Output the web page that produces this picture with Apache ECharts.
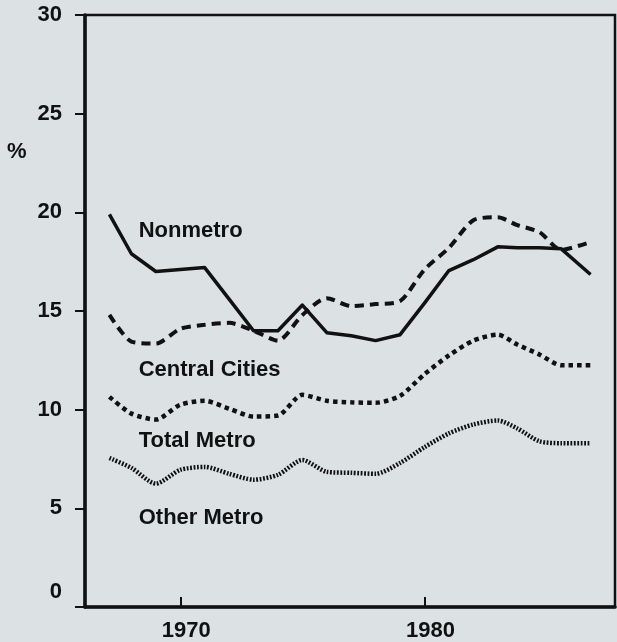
<!DOCTYPE html>
<html><head><meta charset="utf-8">
<script src="https://cdn.jsdelivr.net/npm/echarts@6/dist/echarts.min.js"></script>
<style>html,body{margin:0;padding:0;background:#dce1e4;} #c{width:617px;height:642px;}</style>
</head><body><div id="c"></div>
<script>
// Year positions as plotted in the original figure
const years = [1967.1, 1968, 1969, 1970, 1971, 1972, 1973, 1974, 1975, 1976, 1977, 1978, 1979, 1980, 1981, 1982, 1983, 1983.8, 1984.7, 1985.6, 1986.8];
const nonmetro      = [19.9, 17.9, 17.0, 17.1, 17.2, 15.6, 14.0, 14.0, 15.3, 13.9, 13.75, 13.5, 13.8, 15.4, 17.05, 17.6, 18.25, 18.2, 18.2, 18.15, 16.85];
const centralCities = [14.8, 13.45, 13.35, 14.1, 14.3, 14.4, 14.0, 13.5, 14.8, 15.65, 15.25, 15.35, 15.5, 17.1, 18.2, 19.6, 19.75, 19.35, 19.0, 18.1, 18.5];
const totalMetro    = [10.65, 9.8, 9.5, 10.25, 10.45, 10.05, 9.65, 9.7, 10.75, 10.45, 10.37, 10.35, 10.7, 11.8, 12.75, 13.5, 13.8, 13.3, 12.8, 12.25, 12.25];
const otherMetro    = [7.55, 7.05, 6.25, 6.95, 7.1, 6.75, 6.45, 6.7, 7.45, 6.85, 6.8, 6.75, 7.3, 8.1, 8.8, 9.25, 9.45, 9.05, 8.4, 8.3, 8.3];
const seriesNames = ['Nonmetro', 'Central Cities', 'Total Metro', 'Other Metro'];
const xTickValues = [1970, 1980];
const yAxisUnit = '%';
// anchor (in data units) for the in-plot series labels
const labelYear = 1968.3;
const labelValues = [19.05, 12.0, 8.4, 4.5];

const INK = '#111';
const FONT = '"Liberation Sans", Arial, sans-serif';
const pairs = arr => years.map((y, i) => [y, arr[i]]);

const chart = echarts.init(document.getElementById('c'), null, {renderer: 'canvas'});
const option = {
  animation: false,
  backgroundColor: '#dce1e4',
  grid: {left: 85, right: 2, top: 15, bottom: 34, show: true, borderColor: INK, borderWidth: 2.5, backgroundColor: 'transparent'},
  xAxis: {
    type: 'value', min: 1966.1, max: 1987.8,
    splitLine: {show: false},
    axisLine: {show: true, lineStyle: {color: INK, width: 3.5}},
    axisTick: {show: true, inside: true, length: 10, customValues: xTickValues, lineStyle: {color: INK, width: 2}},
    axisLabel: {show: true, customValues: xTickValues, formatter: v => String(Math.round(v)),
      color: INK, fontFamily: FONT, fontWeight: 'bold', fontSize: 22, margin: 13, padding: [0, 0, 0, 12]}
  },
  yAxis: {
    type: 'value', min: 0, max: 30, interval: 5,
    splitLine: {show: false},
    axisLine: {show: true, lineStyle: {color: INK, width: 3.5}},
    axisTick: {show: true, inside: false, length: 10, lineStyle: {color: INK, width: 2}},
    axisLabel: {
      color: INK, fontFamily: FONT, fontWeight: 'bold', fontSize: 22, margin: 23,
      formatter: v => v === 0 ? '{z|0}' : String(v),
      rich: {z: {color: INK, fontFamily: FONT, fontWeight: 'bold', fontSize: 22, padding: [0, 0, 30, 0]}}
    }
  },
  series: [
    {name: seriesNames[0], type: 'line', data: pairs(nonmetro), symbol: 'none', smooth: false,
     lineStyle: {color: INK, width: 3.5, join: 'round'}},
    {name: seriesNames[1], type: 'line', data: pairs(centralCities), symbol: 'none', smooth: 0.25,
     lineStyle: {color: INK, width: 4, type: [9, 6]}},
    {name: seriesNames[2], type: 'line', data: pairs(totalMetro), symbol: 'none', smooth: 0.25,
     lineStyle: {color: INK, width: 4.5, type: [4.5, 4]}},
    {name: seriesNames[3], type: 'line', data: pairs(otherMetro), symbol: 'none', smooth: 0.25,
     lineStyle: {color: INK, width: 4.5, type: [1.8, 1.6]}}
  ]
};
chart.setOption(option);

const graphics = seriesNames.map((name, i) => {
  const p = chart.convertToPixel({gridIndex: 0}, [labelYear, labelValues[i]]);
  return {type: 'text', x: p[0], y: p[1], z: 10,
    style: {text: name, fill: INK, font: 'bold 22px ' + FONT, align: 'left', verticalAlign: 'middle'}};
});
graphics.push({type: 'text', x: 7, y: 152, z: 10,
  style: {text: yAxisUnit, fill: INK, font: 'bold 22px ' + FONT, align: 'left', verticalAlign: 'middle'}});
chart.setOption({graphic: graphics});
</script>
</body></html>
